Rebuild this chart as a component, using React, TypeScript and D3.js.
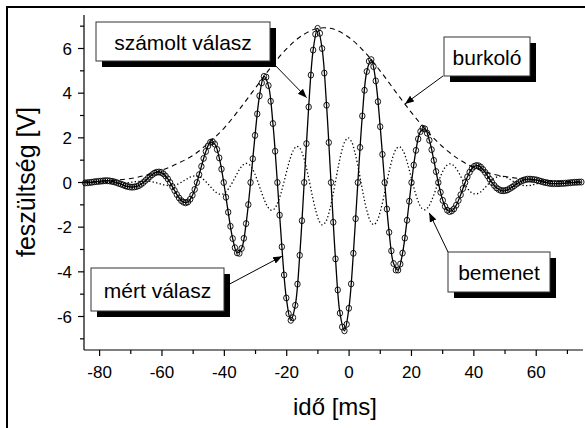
import React from 'react';
import * as d3 from 'd3';

const W = 585;
const H = 428;

// measured response (mért válasz), uniformly sampled
const measuredT0 = -84.63;
const measuredDt = 0.7167;
const measured = [
  -0.02, -0.01, 0, 0.01, 0.03, 0.04, 0.05, 0.06, 0.07, 0.08, 0.08, 0.07, 0.05, 0.03, 0,
  -0.04, -0.07, -0.11, -0.15, -0.18, -0.2, -0.21, -0.2, -0.18, -0.14, -0.08, 0,
  0.09, 0.18, 0.27, 0.35, 0.42, 0.46, 0.47, 0.45, 0.39, 0.29, 0.16, 0,
  -0.18, -0.36, -0.54, -0.69, -0.81, -0.88, -0.91, -0.87, -0.75, -0.57, -0.31, 0,
  0.35, 0.72, 1.08, 1.39, 1.64, 1.8, 1.83, 1.72, 1.48, 1.1, 0.6, 0,
  -0.66, -1.33, -1.96, -2.51, -2.92, -3.15, -3.17, -2.95, -2.5, -1.84, -0.99, 0,
  1.06, 2.11, 3.07, 3.88, 4.46, 4.75, 4.72, 4.34, 3.64, 2.64, 1.4, 0,
  -1.46, -2.88, -4.14, -5.17, -5.87, -6.17, -6.05, -5.5, -4.55, -3.26, -1.71, 0,
  1.74, 3.38, 4.81, 5.93, 6.64, 6.9, 6.68, 6.0, 4.9, 3.46, 1.79, 0,
  -1.78, -3.42, -4.81, -5.85, -6.47, -6.64, -6.35, -5.63, -4.54, -3.17, -1.62, 0,
  1.57, 2.98, 4.13, 4.97, 5.43, 5.5, 5.19, 4.55, 3.62, 2.5, 1.26, 0,
  -1.19, -2.23, -3.06, -3.63, -3.92, -3.92, -3.65, -3.16, -2.49, -1.69, -0.84, 0,
  0.78, 1.44, 1.95, 2.28, 2.43, 2.4, 2.21, 1.89, 1.47, 0.99, 0.49, 0,
  -0.44, -0.8, -1.07, -1.24, -1.3, -1.27, -1.18, -1.02, -0.8, -0.55, -0.27, 0,
  0.25, 0.46, 0.62, 0.72, 0.76, 0.75, 0.69, 0.58, 0.45, 0.3, 0.15, 0,
  -0.13, -0.24, -0.31, -0.36, -0.37, -0.36, -0.33, -0.27, -0.21, -0.14, -0.07, 0,
  0.06, 0.1, 0.13, 0.15, 0.15, 0.14, 0.13, 0.11, 0.08, 0.05, 0.02, 0,
  -0.02, -0.04, -0.05, -0.05, -0.05, -0.05, -0.04, -0.04, -0.03, -0.02, -0.01, 0,
  0.01, 0.01, 0.02, 0.02,
];

// calculated response (számolt válasz)
const calculatedT0 = -84.63;
const calculatedDt = 1.4334;
const calculated = [
  -0.02, 0, 0.03, 0.05, 0.07, 0.08, 0.05, 0, -0.07, -0.15, -0.2, -0.2, -0.14, 0,
  0.18, 0.35, 0.46, 0.45, 0.29, 0, -0.36, -0.69, -0.88, -0.87, -0.57, 0,
  0.72, 1.39, 1.8, 1.72, 1.1, 0, -1.33, -2.51, -3.15, -2.95, -1.84, 0,
  2.11, 3.88, 4.75, 4.34, 2.64, 0, -2.88, -5.17, -6.17, -5.5, -3.26, 0,
  3.38, 5.93, 6.9, 6.0, 3.46, 0, -3.42, -5.85, -6.64, -5.63, -3.17, 0,
  2.98, 4.97, 5.5, 4.55, 2.5, 0, -2.23, -3.63, -3.92, -3.16, -1.69, 0,
  1.44, 2.28, 2.4, 1.89, 0.99, 0, -0.8, -1.24, -1.27, -1.02, -0.55, 0,
  0.46, 0.72, 0.75, 0.58, 0.3, 0, -0.24, -0.36, -0.36, -0.27, -0.14, 0,
  0.1, 0.15, 0.14, 0.11, 0.05, 0, -0.04, -0.05, -0.05, -0.04, -0.02, 0,
  0.01, 0.02,
];

// envelope (burkoló)
const envelopeT = [-85, -80, -75, -70, -65, -60, -55, -50, -45, -40, -35, -30, -25, -20, -15, -10, -5, 0, 5, 10, 15, 20, 25, 30, 35, 40, 45, 50, 55, 60, 65, 70, 75];
const envelope = [0.03, 0.05, 0.1, 0.18, 0.33, 0.55, 0.85, 1.22, 1.78, 2.45, 3.31, 4.24, 5.17, 5.99, 6.59, 6.9, 6.87, 6.49, 5.84, 4.99, 4.05, 3.13, 2.3, 1.6, 1.06, 0.67, 0.42, 0.27, 0.17, 0.1, 0.06, 0.04, 0.03];

// input (bemenet)
const inputT0 = -84.86;
const inputDt = 1.03125;
const input = [
  0.01, 0.01, 0.01, 0.01, 0.01, 0.01, 0, -0.01, -0.01, -0.02, -0.03, -0.03, -0.02, -0.01, 0,
  0.02, 0.04, 0.05, 0.06, 0.07, 0.06, 0.03, 0, -0.04, -0.08, -0.12, -0.14, -0.15, -0.12, -0.07, 0,
  0.09, 0.17, 0.25, 0.29, 0.29, 0.24, 0.14, 0, -0.16, -0.32, -0.45, -0.52, -0.52, -0.42, -0.24, 0,
  0.27, 0.54, 0.74, 0.85, 0.83, 0.67, 0.38, 0, -0.42, -0.8, -1.1, -1.24, -1.19, -0.94, -0.53, 0,
  0.57, 1.08, 1.45, 1.62, 1.53, 1.2, 0.67, 0, -0.69, -1.3, -1.73, -1.9, -1.77, -1.37, -0.75, 0,
  0.76, 1.41, 1.84, 2.0, 1.84, 1.4, 0.76, 0, -0.75, -1.36, -1.76, -1.89, -1.72, -1.29, -0.69, 0,
  0.66, 1.19, 1.52, 1.6, 1.44, 1.07, 0.56, 0, -0.52, -0.93, -1.17, -1.22, -1.08, -0.79, -0.41, 0,
  0.37, 0.65, 0.81, 0.83, 0.73, 0.53, 0.27, 0, -0.24, -0.41, -0.5, -0.51, -0.44, -0.31, -0.16, 0,
  0.14, 0.23, 0.28, 0.28, 0.24, 0.17, 0.08, 0, -0.07, -0.12, -0.14, -0.14, -0.12, -0.08, -0.04, 0,
  0.03, 0.05, 0.06, 0.06, 0.05, 0.04, 0.02, 0, -0.01, -0.02, -0.03, -0.02, -0.02,
];

const xDomain = [-85, 75];
const yDomain = [-7.5, 7.5];
const xTicksMajor = [-80, -60, -40, -20, 0, 20, 40, 60];
const xTicksMinor = [-70, -50, -30, -10, 10, 30, 50, 70];
const yTicksMajor = [-6, -4, -2, 0, 2, 4, 6];
const yTicksMinor = [-7, -5, -3, -1, 1, 3, 5, 7];
const xTitle = 'idő [ms]';
const yTitle = 'feszültség [V]';

const annotations = [
  { text: 'számolt válasz', box: [96, 22, 174, 39], from: [270, 60], to: [-13.6, 3.8] },
  { text: 'burkoló', box: [444, 37, 86, 39], from: [443, 76], to: [17.9, 3.52] },
  { text: 'mért válasz', box: [91, 268, 133, 43], from: [224, 287], to: [-21.5, -3.3] },
  { text: 'bemenet', box: [448, 252, 102, 40], from: [448, 252], to: [25.7, -1.36] },
];

const FONT = 'Liberation Sans, Arial, Helvetica, sans-serif';

export default function App() {
  const x = d3.scaleLinear().domain(xDomain).range([84, 583]);
  const y = d3.scaleLinear().domain(yDomain).range([350, 15]);

  const mPts = measured.map((v, i) => [measuredT0 + i * measuredDt, v] as [number, number]);
  const cPts = calculated.map((v, i) => [calculatedT0 + i * calculatedDt, v] as [number, number]);
  const ePts = envelope.map((v, i) => [envelopeT[i], v] as [number, number]);
  const iPts = input.map((v, i) => [inputT0 + i * inputDt, v] as [number, number]);

  const line = d3
    .line<[number, number]>()
    .x((d) => x(d[0]))
    .y((d) => y(d[1]))
    .curve(d3.curveCatmullRom.alpha(0.5));

  const x0 = x(xDomain[0]);
  const x1 = x(xDomain[1]);
  const yb = y(yDomain[0]);
  const yt = y(yDomain[1]);

  return (
    <svg
      width={W}
      height={H}
      style={{ position: 'absolute', left: 0, top: 0, background: '#fff' }}
      fontFamily={FONT}
    >
      <defs>
        <marker id="ah" viewBox="0 0 10 10" refX="10" refY="5" markerWidth="9" markerHeight="9" markerUnits="userSpaceOnUse" orient="auto">
          <path d="M0,1 L10,5 L0,9 z" fill="#000" />
        </marker>
      </defs>
      <rect x={0} y={0} width={W} height={H} fill="#fff" />
      <rect x={7} y={7} width={W + 20} height={H + 20} fill="none" stroke="#000" strokeWidth={2} />

      {/* series */}
      <path d={line(ePts) || ''} fill="none" stroke="#000" strokeWidth={1.1} strokeDasharray="5,4" />
      <path d={line(iPts) || ''} fill="none" stroke="#000" strokeWidth={1.3} strokeDasharray="1.3,2.3" />
      <path d={line(cPts) || ''} fill="none" stroke="#000" strokeWidth={1.3} />
      {mPts.map((d, i) => (
        <ellipse key={i} cx={x(d[0])} cy={y(d[1])} rx={2.7} ry={3} fill="none" stroke="#000" strokeWidth={0.9} />
      ))}

      {/* axes */}
      <line x1={x0} x2={x1} y1={yb} y2={yb} stroke="#000" strokeWidth={1.2} />
      <line x1={x0} x2={x0} y1={yb} y2={yt} stroke="#000" strokeWidth={1.2} />
      {xTicksMajor.map((t) => (
        <g key={'xm' + t}>
          <line x1={x(t)} x2={x(t)} y1={yb} y2={yb + 6} stroke="#000" strokeWidth={1.2} />
          <text x={x(t)} y={yb + 28} fontSize={17} textAnchor="middle">{t}</text>
        </g>
      ))}
      {xTicksMinor.map((t) => (
        <line key={'xn' + t} x1={x(t)} x2={x(t)} y1={yb} y2={yb + 4} stroke="#000" strokeWidth={1.2} />
      ))}
      {yTicksMajor.map((t) => (
        <g key={'ym' + t}>
          <line x1={x0 - 6} x2={x0} y1={y(t)} y2={y(t)} stroke="#000" strokeWidth={1.2} />
          <text x={x0 - 12} y={y(t) + 6} fontSize={17} textAnchor="end">{t}</text>
        </g>
      ))}
      {yTicksMinor.map((t) => (
        <line key={'yn' + t} x1={x0 - 4} x2={x0} y1={y(t)} y2={y(t)} stroke="#000" strokeWidth={1.2} />
      ))}
      <text x={335} y={415} fontSize={24} textAnchor="middle">{xTitle}</text>
      <text transform={`translate(35,182) rotate(-90)`} fontSize={25} textAnchor="middle">{yTitle}</text>

      {/* annotations */}
      {annotations.map((a, i) => {
        const [bx, by, bw, bh] = a.box;
        return (
          <g key={'a' + i}>
            <line x1={a.from[0]} y1={a.from[1]} x2={x(a.to[0])} y2={y(a.to[1])} stroke="#000" strokeWidth={1} markerEnd="url(#ah)" />
            <rect x={bx + 6} y={by + 6} width={bw} height={bh} fill="#000" />
            <rect x={bx} y={by} width={bw} height={bh} fill="#fff" stroke="#333" strokeWidth={1} />
            <text x={bx + bw / 2} y={by + bh / 2 + 8} fontSize={21} textAnchor="middle">{a.text}</text>
          </g>
        );
      })}
    </svg>
  );
}
